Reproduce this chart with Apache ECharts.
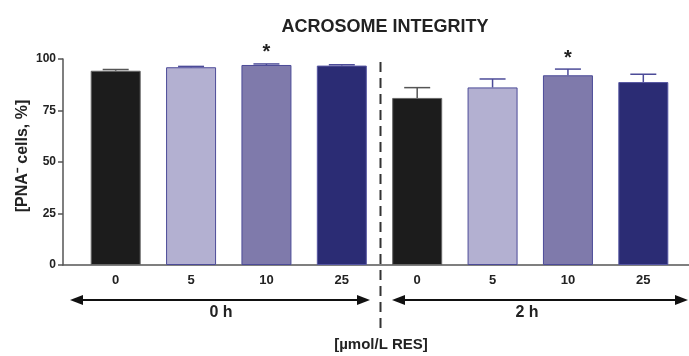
<!DOCTYPE html>
<html>
<head>
<meta charset="utf-8">
<script src="https://cdn.jsdelivr.net/npm/echarts@6/dist/echarts.min.js"></script>
<style>html,body{margin:0;padding:0;background:#fff;}#c{width:689px;height:356px;}</style>
</head>
<body>
<div id="c"></div>
<script>
// ---- data ----
var doses = ['0', '5', '10', '25'];
var times = ['0 h', '2 h'];
var categories = ['0|0 h', '5|0 h', '10|0 h', '25|0 h', '0|2 h', '5|2 h', '10|2 h', '25|2 h'];
var values = [94.3, 96.0, 97.1, 96.8, 81.1, 86.2, 92.1, 88.8];
var errors = [0.6, 0.4, 0.5, 0.4, 5.0, 4.1, 3.0, 3.8];
var significant = [0, 0, 1, 0, 0, 0, 1, 0];
var yTicks = [0, 25, 50, 75, 100];
var titleText = 'ACROSOME INTEGRITY';
var yName = '[PNA\u207B cells, %]';
var xName = '[\u00B5mol/L RES]';

var fills = ['#1c1c1c', '#b3b0d1', '#7f7aab', '#2b2c74', '#1c1c1c', '#b3b0d1', '#7f7aab', '#2b2c74'];
var borders = ['#666', '#4c4b98', '#4c4b98', '#5656a2', '#666', '#4c4b98', '#4c4b98', '#5656a2'];
var errColors = ['#555', '#4c4b98', '#4c4b98', '#4c4b98', '#555', '#4c4b98', '#4c4b98', '#4c4b98'];

var FONT = 'Liberation Sans, Arial, sans-serif';
var chart = echarts.init(document.getElementById('c'), null, {renderer: 'canvas'});

var barData = values.map(function (v, i) {
  return {value: v, itemStyle: {color: fills[i], borderColor: borders[i], borderWidth: 1}};
});
var errData = values.map(function (v, i) { return [i, v, errors[i], significant[i]]; });

var option = {
  animation: false,
  backgroundColor: '#fff',
  title: {
    text: titleText, left: 380, top: 13, textAlign: 'center',
    textStyle: {fontFamily: FONT, fontSize: 18, fontWeight: 'bold', color: '#222'}
  },
  grid: [
    {left: 63, right: 0, top: 59, bottom: 91},
    {left: 78, width: 603, top: 59, bottom: 91}
  ],
  xAxis: [
    {gridIndex: 0, type: 'value', min: 0, max: 1, axisLine: {show: true, lineStyle: {color: '#555', width: 1.5}},
     axisTick: {show: false}, axisLabel: {show: false}, splitLine: {show: false}},
    {gridIndex: 1, type: 'category', data: categories,
     axisLine: {show: false}, axisTick: {show: false}, splitLine: {show: false},
     axisLabel: {margin: 9, fontFamily: FONT, fontSize: 13, fontWeight: 'bold', color: '#222',
       formatter: function (v) { return v.split('|')[0]; }}}
  ],
  yAxis: [
    {gridIndex: 0, type: 'value', min: 0, max: 100, interval: 25,
     axisLine: {show: true, lineStyle: {color: '#555', width: 1.5}},
     axisTick: {show: true, length: 5, lineStyle: {color: '#555', width: 1.5}},
     axisLabel: {margin: 7, fontFamily: FONT, fontSize: 12, fontWeight: 'bold', color: '#222'},
     splitLine: {show: false}},
    {gridIndex: 1, type: 'value', min: 0, max: 100, interval: 25, show: false}
  ],
  series: [
    {type: 'bar', xAxisIndex: 1, yAxisIndex: 1, barWidth: 50, data: barData, z: 2},
    {type: 'custom', xAxisIndex: 1, yAxisIndex: 1, data: errData, z: 3,
     renderItem: function (params, api) {
       var i = api.value(0);
       var base = api.coord([i, api.value(1)]);
       var top = api.coord([i, api.value(1) + api.value(2)]);
       var c = errColors[params.dataIndex];
       var children = [
         {type: 'line', shape: {x1: base[0], y1: base[1], x2: top[0], y2: top[1]}, style: {stroke: c, lineWidth: 1.5}},
         {type: 'line', shape: {x1: top[0] - 13, y1: top[1], x2: top[0] + 13, y2: top[1]}, style: {stroke: c, lineWidth: 1.5}}
       ];
       if (api.value(3)) {
         children.push({type: 'text', style: {text: '*', x: top[0], y: top[1] - 1, align: 'center', verticalAlign: 'bottom',
           font: 'bold 20px ' + FONT, fill: '#222'}});
       }
       return {type: 'group', children: children};
     }}
  ]
};
chart.setOption(option);

// annotations: separator midway between the 4th and 5th category
var p3 = chart.convertToPixel({xAxisIndex: 1}, categories[3]);
var p4 = chart.convertToPixel({xAxisIndex: 1}, categories[4]);
var sepX = Math.round((p3 + p4) / 2) + 0.5;
var arrowY = 300;
function arrow(x1, x2) {
  return [
    {type: 'line', shape: {x1: x1 + 10, y1: arrowY, x2: x2 - 10, y2: arrowY}, style: {stroke: '#111', lineWidth: 2}},
    {type: 'polygon', shape: {points: [[x1, arrowY], [x1 + 13, arrowY - 5], [x1 + 13, arrowY + 5]]}, style: {fill: '#111'}},
    {type: 'polygon', shape: {points: [[x2, arrowY], [x2 - 13, arrowY - 5], [x2 - 13, arrowY + 5]]}, style: {fill: '#111'}}
  ];
}
var graphics = [
  {type: 'line', shape: {x1: sepX, y1: 62, x2: sepX, y2: 330}, style: {stroke: '#333', lineWidth: 2, lineDash: [10, 6]}},
  {type: 'text', x: 23, y: 156, rotation: Math.PI / 2,
   style: {text: yName, align: 'center', verticalAlign: 'middle', font: 'bold 16px ' + FONT, fill: '#222'}},
  {type: 'text', x: 221, y: 313, style: {text: times[0], align: 'center', verticalAlign: 'middle', font: 'bold 16px ' + FONT, fill: '#222'}},
  {type: 'text', x: 527, y: 313, style: {text: times[1], align: 'center', verticalAlign: 'middle', font: 'bold 16px ' + FONT, fill: '#222'}},
  {type: 'text', x: 381, y: 345, style: {text: xName, align: 'center', verticalAlign: 'middle', font: 'bold 15px ' + FONT, fill: '#222'}}
].concat(arrow(70, 370)).concat(arrow(392, 688));
chart.setOption({graphic: {elements: graphics}});
</script>
</body>
</html>
